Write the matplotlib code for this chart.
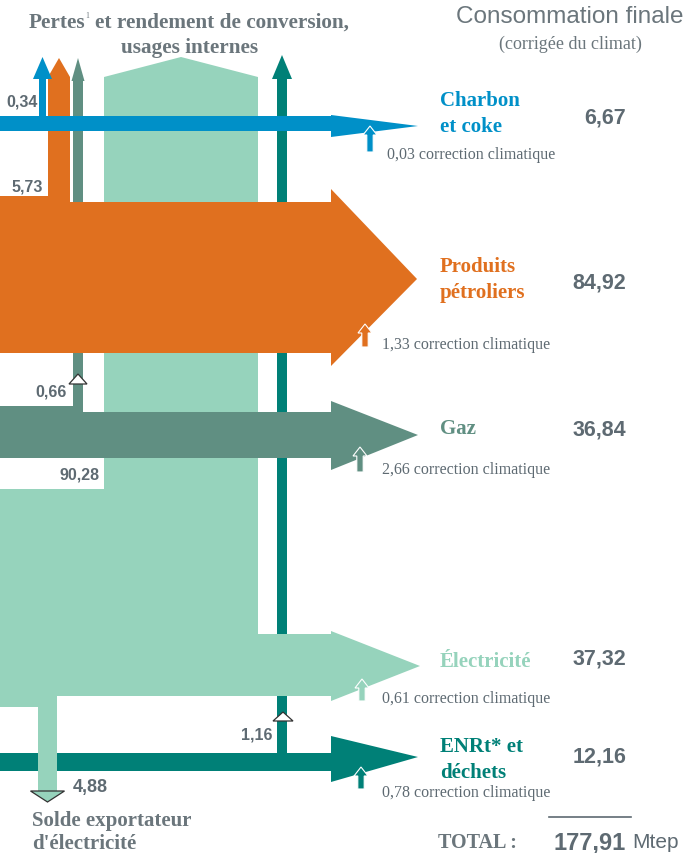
import matplotlib.pyplot as plt
from matplotlib.patches import Polygon

# --- data ---------------------------------------------------------------
categories = ["Charbon\net coke", "Produits\npétroliers", "Gaz", "Électricité", "ENRt* et\ndéchets"]
final_values = [6.67, 84.92, 36.84, 37.32, 12.16]
corrections = [0.03, 1.33, 2.66, 0.61, 0.78]
loss_values = [0.34, 5.73, 0.66, 1.16]          # charbon, petrole, gaz, ENRt
primary_elec = 90.28
export_elec = 4.88
colors = ["#0090C8", "#E0701F", "#608F82", "#96D3BC", "#008077"]

def fr(v):
    return f"{v:.2f}".replace(".", ",")

SERIF = "Liberation Serif"
SANS = "Liberation Sans"
GREY = "#5E6A72"
LGREY = "#6B767C"

# --- layout (pixels) ----------------------------------------------------
band_top = [117, 203, 413, 635, 754]
band_bot = [132, 354, 459, 697, 772]
left_top = [117, 197, 407, None, 754]
head_top = [116, 190, 402, 632, 737]
head_bot = [138, 367, 471, 702, 783]
tip_y = [127, 280, 436, 667, 758]
tip_x = [418, 417, 418, 420, 418]
head_x0 = 331
# vertical loss branches: x0, x1, head half-flare, head base y, tip y
branch = {0: (39, 46, 6, 80, 58), 1: (48, 70, 0, 78, 59),
          2: (73, 83, 1.5, 82, 59), 4: (277, 287, 5, 80, 56)}
zorders = [5, 4, 3, 2, 1]

fig = plt.figure(figsize=(6.83, 8.54), dpi=100)
ax = fig.add_axes([0, 0, 1, 1])
ax.set_xlim(0, 683)
ax.set_ylim(854, 0)
ax.axis("off")

for i in [0, 1, 2, 4]:
    bx0, bx1, fl, hb, ty = branch[i]
    pts = [(0, left_top[i]), (bx0, left_top[i]), (bx0, hb), (bx0 - fl, hb),
           ((bx0 + bx1) / 2, ty), (bx1 + fl, hb), (bx1, hb), (bx1, band_top[i]),
           (head_x0, band_top[i]), (head_x0, head_top[i]), (tip_x[i], tip_y[i]),
           (head_x0, head_bot[i]), (head_x0, band_bot[i]), (0, band_bot[i])]
    ax.add_patch(Polygon(pts, closed=True, fc=colors[i], ec="none", zorder=zorders[i]))

# electricity: primary input + central column (losses) + export branch
col_x0, col_x1, col_peak, col_base = 104, 258, 58, 78
elec_left_top, elec_left_bot = 490, 708
exp_x0, exp_x1, exp_bot = 38, 57, 792
e = 3
elec_pts = [(0, elec_left_top), (col_x0, elec_left_top), (col_x0, col_base),
            ((col_x0 + col_x1) / 2, col_peak), (col_x1, col_base), (col_x1, band_top[e]),
            (head_x0, band_top[e]), (head_x0, head_top[e]), (tip_x[e], tip_y[e]),
            (head_x0, head_bot[e]), (head_x0, band_bot[e]), (exp_x1, band_bot[e]),
            (exp_x1, exp_bot), (exp_x0, exp_bot), (exp_x0, elec_left_bot), (0, elec_left_bot)]
ax.add_patch(Polygon(elec_pts, closed=True, fc=colors[e], ec="none", zorder=2))

# direction markers
def tri(cx, y_apex, y_base, half, fc):
    ax.add_patch(Polygon([(cx - half, y_base), (cx, y_apex), (cx + half, y_base)],
                         closed=True, fc=fc, ec="#333333", lw=0.9, zorder=7))

tri(78, 375, 385, 9, "white")
tri(283, 713, 722, 10, "white")
tri((exp_x0 + exp_x1) / 2, 803, 792, 17, colors[3])

# climate correction arrows
corr_x = [370, 365, 360, 362, 361]
corr_bot = [153, 348, 473, 702, 790]
corr_tip = [127, 325, 448, 680, 768]
for i in range(5):
    x, yb, yt = corr_x[i], corr_bot[i], corr_tip[i]
    hw, sw, hl = 7, 3.2, 9
    pts = [(x - sw, yb), (x - sw, yt + hl), (x - hw, yt + hl), (x, yt),
           (x + hw, yt + hl), (x + sw, yt + hl), (x + sw, yb)]
    ax.add_patch(Polygon(pts, closed=True, fc=colors[i], ec="white", lw=0.8, zorder=8))

# --- texts --------------------------------------------------------------
ax.text(29, 23, "Pertes", ha="left", va="center",
        family=SERIF, weight="bold", fontsize=15.3, color=LGREY)
ax.text(85, 16, "1", ha="left", va="center", family=SERIF, fontsize=5.5, color=LGREY)
ax.text(95, 23, "et rendement de conversion,", ha="left", va="center",
        family=SERIF, weight="bold", fontsize=15.3, color=LGREY)
ax.text(190, 48, "usages internes", ha="center", va="center",
        family=SERIF, weight="bold", fontsize=15.3, color=LGREY)
ax.text(684, 17, "Consommation finale", ha="right", va="center",
        family=SANS, fontsize=17.5, color=LGREY)
ax.text(570, 44, "(corrigée du climat)", ha="center", va="center",
        family=SERIF, fontsize=13, color=LGREY)

label_y = [114, 280, 429, 662, 760]
value_y = [118, 283, 430, 659, 757]
corr_lab_x = [387, 382, 382, 382, 382]
corr_lab_y = [155, 345, 470, 699, 793]
for i in range(5):
    ax.text(440, label_y[i], categories[i], ha="left", va="center", family=SERIF,
            weight="bold", fontsize=15, color=colors[i], linespacing=1.38, zorder=9)
    ax.text(626, value_y[i], fr(final_values[i]), ha="right", va="center", family=SANS,
            weight="bold", fontsize=15.5, color=GREY)
    ax.text(corr_lab_x[i], corr_lab_y[i], fr(corrections[i]) + " correction climatique",
            ha="left", va="center", family=SERIF, fontsize=11.5, color=GREY)

loss_pos = [(38, 102), (43, 187), (67, 392), (272, 735)]
for v, (x, y) in zip(loss_values, loss_pos):
    ax.text(x, y, fr(v), ha="right", va="center", family=SANS, weight="bold",
            fontsize=11.5, color=GREY)
ax.text(100, 475, fr(primary_elec), ha="right", va="center", family=SANS,
        weight="bold", fontsize=11.5, color=GREY)
ax.text(73, 788, fr(export_elec), ha="left", va="center", family=SANS,
        weight="bold", fontsize=13, color=GREY)
ax.text(32, 821, "Solde exportateur", ha="left", va="center", family=SERIF,
        weight="bold", fontsize=15, color=LGREY)
ax.text(32, 844, "d'électricité", ha="left", va="center", family=SERIF,
        weight="bold", fontsize=15, color=LGREY)

total = sum(final_values)
ax.plot([549, 631], [818, 818], color=GREY, lw=1.2)
ax.text(517, 843, "TOTAL :", ha="right", va="center", family=SERIF, weight="bold",
        fontsize=14.5, color=LGREY)
ax.text(626, 843, fr(total), ha="right", va="center", family=SANS, weight="bold",
        fontsize=17, color=GREY)
ax.text(632, 843, "Mtep", ha="left", va="center", family=SANS, fontsize=15, color=GREY)

fig.savefig("out.png", dpi=100)
